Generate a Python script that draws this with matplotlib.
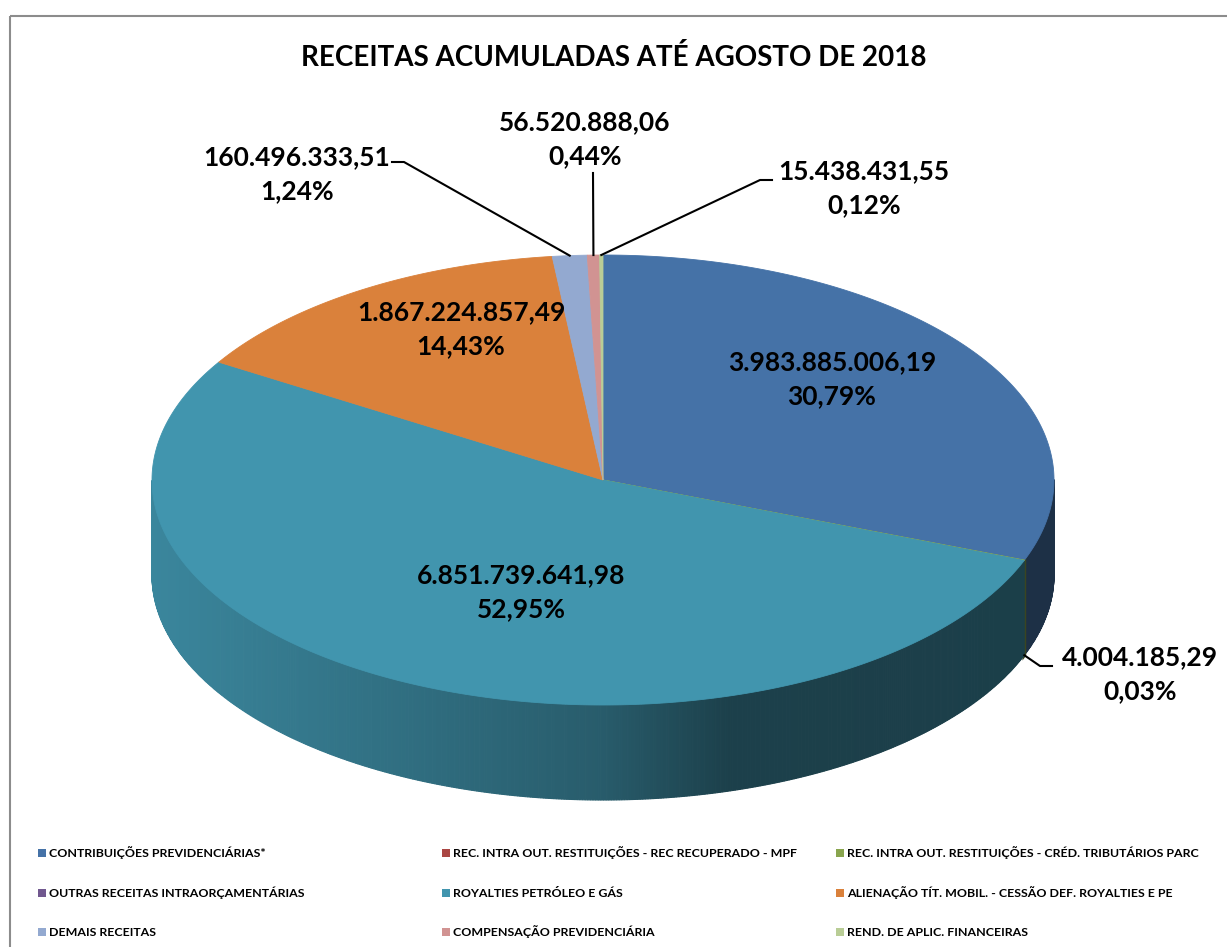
import numpy as np
import matplotlib
matplotlib.use("Agg")
import matplotlib.pyplot as plt
from matplotlib.patches import Polygon, Rectangle

plt.rcParams['font.family'] = ['Lato', 'DejaVu Sans']

# data (legend order)
categories = [
    "CONTRIBUIÇÕES PREVIDENCIÁRIAS*",
    "REC. INTRA OUT. RESTITUIÇÕES - REC RECUPERADO - MPF",
    "REC. INTRA OUT. RESTITUIÇÕES - CRÉD. TRIBUTÁRIOS PARC",
    "OUTRAS RECEITAS INTRAORÇAMENTÁRIAS",
    "ROYALTIES PETRÓLEO E GÁS",
    "ALIENAÇÃO TÍT. MOBIL. - CESSÃO DEF. ROYALTIES E PE",
    "DEMAIS RECEITAS",
    "COMPENSAÇÃO PREVIDENCIÁRIA",
    "REND. DE APLIC. FINANCEIRAS",
]
values = [3983885006.19, 0.0, 4004185.29, 0.0, 6851739641.98,
          1867224857.49, 160496333.51, 56520888.06, 15438431.55]
colors = ['#4572A7', '#AA4643', '#89A54E', '#71588F', '#4195AE',
          '#DA813B', '#93A9D0', '#D19392', '#B9CD96']

# label anchors (pixel layout)
label_pos = {
    0: (832, 362),
    2: (1140, 657),
    4: (521, 575),
    5: (461, 312),
    6: (297, 157),
    7: (585, 122),
    8: (864, 171),
}
leaders = {
    2: [(1040, 666), (1052, 666)],
    6: [(404, 162), (392, 162)],
    7: [(593, 173)],
    8: [(760, 180), (772, 180)],
}

W, H = 1227, 947
cx, cy, ra, rb, depth = 603, 480, 451, 225, 95


def fmt_br(v):
    s = f"{v:,.2f}"
    return s.replace(",", "X").replace(".", ",").replace("X", ".")


def shade(x):
    return np.interp(x, [152, 440, 600, 730, 1060], [0.90, 0.72, 0.62, 0.43, 0.42])


def ell(t):
    return cx + ra * np.cos(t), cy - rb * np.sin(t)


fig = plt.figure(figsize=(W / 100, H / 100), dpi=100)
ax = fig.add_axes([0, 0, 1, 1])
ax.set_xlim(0, W)
ax.set_ylim(H, 0)
ax.axis('off')

ax.add_patch(Rectangle((9.5, 15.5), W, H, fill=False, ec='#8c8c8c', lw=1.5))

total = sum(values)
fracs = np.array(values) / total
ends = np.deg2rad(90 - 360 * np.cumsum(fracs))
starts = np.concatenate([[np.deg2rad(90)], ends[:-1]])

# side wall (front half only)
for i, (t0, t1) in enumerate(zip(starts, ends)):
    if values[i] <= 0:
        continue
    ts = np.linspace(t1, t0, max(2, int(np.degrees(t0 - t1) * 3) + 2))
    base = np.array(matplotlib.colors.to_rgb(colors[i]))
    lw = 2.5 if fracs[i] < 0.001 else 0.8
    for u0, u1 in zip(ts[:-1], ts[1:]):
        if np.sin((u0 + u1) / 2) >= 0:
            continue
        x0, y0 = ell(u0)
        x1, y1 = ell(u1)
        c = np.clip(base * shade((x0 + x1) / 2), 0, 1)
        ax.add_patch(Polygon([(x0, y0), (x1, y1), (x1, y1 + depth), (x0, y0 + depth)],
                             closed=True, fc=c, ec=c, lw=lw))

# top face
for i, (t0, t1) in enumerate(zip(starts, ends)):
    if values[i] <= 0:
        continue
    ts = np.linspace(t0, t1, max(2, int(np.degrees(t0 - t1) * 2) + 2))
    pts = [(cx, cy)] + [ell(t) for t in ts]
    ax.add_patch(Polygon(pts, closed=True, fc=colors[i], ec=colors[i], lw=0.6))

# labels
for i, (x, y) in label_pos.items():
    pct = f"{fracs[i] * 100:.2f}%".replace(".", ",")
    ax.text(x, y, fmt_br(values[i]), ha='center', va='center', fontsize=19, fontweight='bold')
    ax.text(x, y + 34, pct, ha='center', va='center', fontsize=19, fontweight='bold')

for i, pts in leaders.items():
    m = (starts[i] + ends[i]) / 2
    px, py = ell(m)
    if np.sin(m) < 0:
        py += depth
    xs = [px] + [p[0] for p in pts]
    ys = [py] + [p[1] for p in pts]
    ax.plot(xs, ys, color='black', lw=1.5)

ax.text(614, 57, "RECEITAS ACUMULADAS ATÉ AGOSTO DE 2018", ha='center', va='center',
        fontsize=20, fontweight='bold')

# legend
col_x = [38, 442, 836]
row_y = [853, 893, 932]
for k, (lab, col) in enumerate(zip(categories, colors)):
    x = col_x[k % 3]
    y = row_y[k // 3]
    ax.add_patch(Rectangle((x, y - 4), 8, 8, fc=col, ec='none'))
    ax.text(x + 11, y, lab, ha='left', va='center', fontsize=8.9, fontweight='bold')

fig.savefig('out.png', dpi=100)
